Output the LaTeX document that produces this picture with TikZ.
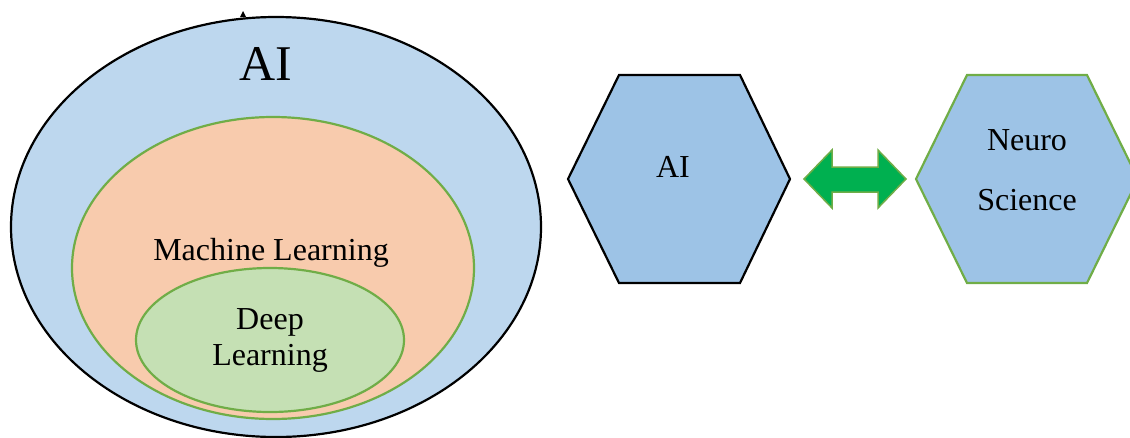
\documentclass[tikz,border=0pt]{standalone}
\usepackage{fontspec}
\setmainfont{Liberation Serif}
\begin{document}
\begin{tikzpicture}[x=1pt,y=-1pt,
  blob/.style={line width=2.2pt},
  label/.style={inner sep=0pt, font=\fontsize{32}{38}\selectfont, align=center},
  hexa/.style={fill=hexblue, line width=2.2pt, line join=miter}]
\definecolor{aiblue}{HTML}{BDD7EE}
\definecolor{mlorange}{HTML}{F8CBAD}
\definecolor{dlgreen}{HTML}{C5E0B4}
\definecolor{edgegreen}{HTML}{70AD47}
\definecolor{hexblue}{HTML}{9DC3E6}
\definecolor{arrowgreen}{HTML}{00B050}
\useasboundingbox (0,0) rectangle (1130,437);

% nested sets: AI > Machine Learning > Deep Learning
\draw[blob, fill=aiblue, draw=black] (276,227) ellipse [x radius=265, y radius=210];
\fill (240,17) -- (243,11) -- (246,17) -- cycle;
\draw[blob, fill=mlorange, draw=edgegreen] (273,268) ellipse [x radius=201, y radius=151];
\draw[blob, fill=dlgreen, draw=edgegreen] (270,340) ellipse [x radius=134, y radius=72];

\node[label, font=\fontsize{50}{56}\selectfont] (ai) at (266,64) {AI};
\node[label] (ml) at (271,253) {Machine Learning};
\node[label] (dl1) at (270,322) {Deep};
\node[label] (dl2) at (270,358) {Learning};

% hexagons
\draw[hexa, draw=black] (568,179) -- (619,75) -- (740,75) -- (790,179) -- (740,283) -- (619,283) -- cycle;
\node[label] (aitxt) at (673,167) {AI};

\draw[hexa, draw=edgegreen] (916,179) -- (967,75) -- (1087,75) -- (1138,179) -- (1087,283) -- (967,283) -- cycle;
\node[label] (neuro) at (1027,140) {Neuro};
\node[label] (science) at (1027,200) {Science};

% two-headed block arrow
\draw[fill=arrowgreen, draw=edgegreen, line width=1.5pt, line join=miter]
  (804,179) -- (832,150) -- (832,167) -- (878,167) -- (878,150) -- (906,179)
  -- (878,208) -- (878,192) -- (832,192) -- (832,208) -- cycle;
\end{tikzpicture}
\end{document}
